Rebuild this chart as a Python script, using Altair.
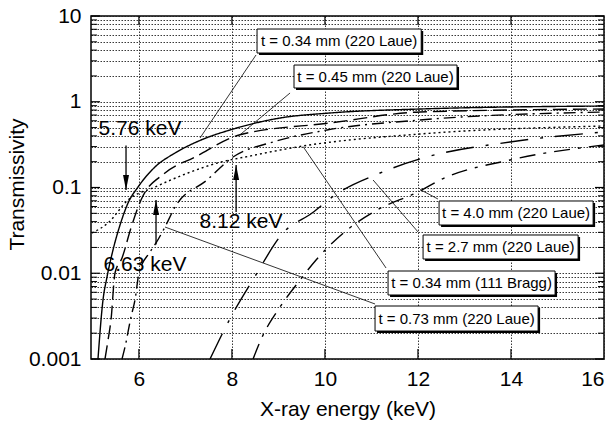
import altair as alt
import pandas as pd

W, H = 513, 343
FONT = "Liberation Sans"

# ---------------- data ----------------
series_names = [
    "t = 0.34 mm (220 Laue)",
    "t = 0.45 mm (220 Laue)",
    "t = 0.73 mm (220 Laue)",
    "t = 0.34 mm (111 Bragg)",
    "t = 2.7 mm (220 Laue)",
    "t = 4.0 mm (220 Laue)",
]

e_034_laue = [5.12, 5.228, 5.314, 5.443, 5.615, 5.766, 5.981, 6.346, 6.776, 7.336, 7.959, 9.035, 10.11, 12.045, 16.0]
t_034_laue = [0.001, 0.00488, 0.00904, 0.01866, 0.0396, 0.0659, 0.1013, 0.1735, 0.2524, 0.358, 0.4686, 0.646, 0.7393, 0.823, 0.892]

e_045_laue = [5.271, 5.336, 5.40, 5.486, 5.637, 5.83, 6.045, 6.561, 7.206, 8.174, 10.11, 12.045, 16.0]
t_045_laue = [0.001, 0.00166, 0.00285, 0.01007, 0.01507, 0.0337, 0.0715, 0.1476, 0.2268, 0.4123, 0.565, 0.7596, 0.823]

e_073_laue = [5.637, 5.701, 5.83, 5.916, 6.002, 6.239, 6.368, 6.561, 6.776, 7.465, 8.024, 8.884, 10.045, 12.045, 16.0]
t_073_laue = [0.001, 0.00138, 0.00309, 0.00488, 0.01007, 0.0177, 0.02255, 0.0346, 0.0592, 0.1223, 0.2268, 0.3393, 0.4686, 0.6126, 0.7596]

e_034_bragg = [4.99, 5.336, 5.766, 6.346, 7.056, 7.766, 8.282, 9.529, 12.045, 16.0]
t_034_bragg = [0.02947, 0.0386, 0.0715, 0.1013, 0.1476, 0.1983, 0.2268, 0.3048, 0.4207, 0.5215]

e_27_laue = [7.529, 8.002, 8.475, 9.099, 9.723, 10.217, 11.185, 12.11, 13.981, 16.0]
t_27_laue = [0.001, 0.00326, 0.0088, 0.02947, 0.0504, 0.0818, 0.1476, 0.2208, 0.3393, 0.4437]

e_40_laue = [8.454, 8.669, 8.992, 9.465, 9.809, 10.475, 11.12, 12.045, 12.475, 13.981, 16.0]
t_40_laue = [0.001, 0.0019, 0.00373, 0.00834, 0.01427, 0.03194, 0.0546, 0.091, 0.1223, 0.2093, 0.3131]

curve_e = [e_034_laue, e_045_laue, e_073_laue, e_034_bragg, e_27_laue, e_40_laue]
curve_t = [t_034_laue, t_045_laue, t_073_laue, t_034_bragg, t_27_laue, t_40_laue]

# label boxes (energy / transmissivity of box corners)
box_e0 = [8.54, 9.335, 11.077, 11.357, 12.11, 12.454]
box_e1 = [12.07, 12.84, 14.583, 14.948, 15.443, 15.766]
box_t0 = [7.05, 2.68, 0.004149, 0.01062, 0.02793, 0.0696]
box_t1 = [3.70, 1.447, 0.00212, 0.005577, 0.01466, 0.03653]

# leader lines: from curve point to box
lead_e_curve = [7.314, 8.174, 6.561, 9.529, 11.035, 12.045]
lead_t_curve = [0.378, 0.412, 0.0346, 0.3007, 0.1223, 0.0948]
lead_e_box = [8.518, 9.25, 11.077, 11.314, 12.002, 12.43]
lead_t_box = [3.51, 1.265, 0.00438, 0.01151, 0.0303, 0.0734]

# energy arrows
arrow_labels = ["5.76 keV", "6.63 keV", "8.12 keV"]
arrow_e = [5.723, 6.368, 8.09]
arrow_t_tail = [0.309, 0.02164, 0.0518]
arrow_t_tip = [0.0936, 0.0715, 0.183]
arrow_dir = ["down", "up", "up"]
label_e = [6.024, 6.131, 8.196]
label_t = [0.481, 0.01248, 0.0396]

x_ticks = [6, 8, 10, 12, 14, 16]
decades = [0.001, 0.01, 0.1, 1, 10]

# ---------------- tables ----------------
rows = []
for name, es, ts in zip(series_names, curve_e, curve_t):
    for e, t in zip(es, ts):
        rows.append({"series": name, "E": e, "T": t})
curves = pd.DataFrame(rows)

boxes = pd.DataFrame({
    "label": series_names, "e0": box_e0, "e1": box_e1, "t0": box_t0, "t1": box_t1,
})
boxes["ec"] = (boxes.e0 + boxes.e1) / 2
boxes["tc"] = (boxes.t0 * boxes.t1) ** 0.5

leaders = pd.DataFrame({"e0": lead_e_curve, "t0": lead_t_curve, "e1": lead_e_box, "t1": lead_t_box})

arrows = pd.DataFrame({"label": arrow_labels, "E": arrow_e, "tail": arrow_t_tail, "tip": arrow_t_tip,
                       "dir": arrow_dir, "le": label_e, "lt": label_t})

minor_vals = []
for d in [0.001, 0.01, 0.1, 1]:
    for k in range(2, 10):
        minor_vals.append(round(k * d, 6))
all_y_vals = sorted(decades + minor_vals)
ymajor = pd.DataFrame({"T": decades})
yminor = pd.DataFrame({"T": minor_vals})
xt = pd.DataFrame({"E": x_ticks[:-1]})

# ---------------- scales ----------------
xs = alt.Scale(domain=[4.97, 16.0], nice=False, zero=False)
ys = alt.Scale(type="log", domain=[0.001, 10], nice=False)

label_expr = ("datum.value == 10 ? '10' : datum.value == 1 ? '1' : datum.value == 0.1 ? '0.1' : "
              "datum.value == 0.01 ? '0.01' : datum.value == 0.001 ? '0.001' : ''")

x_axis = alt.Axis(values=x_ticks, title="X-ray energy (keV)", grid=True, gridDash=[1.5, 1.5],
                  gridColor="#222222", gridWidth=0.9, ticks=False, tickSize=0, domain=False,
                  labelFontSize=21, titleFontSize=21, labelFont=FONT, titleFont=FONT,
                  labelColor="black", titleColor="black", titleFontWeight="normal",
                  labelPadding=9, titleY=50, titleBaseline="middle")
y_axis = alt.Axis(values=all_y_vals, labelExpr=label_expr, title="Transmissivity", grid=True,
                  gridDash=[1.5, 1.5], gridColor="#222222", gridWidth=0.9, ticks=False, tickSize=0,
                  domain=False, labelFontSize=21, titleFontSize=21, labelFont=FONT, titleFont=FONT,
                  labelColor="black", titleColor="black", titleFontWeight="normal",
                  labelPadding=10, titleX=-74, titleY=168, titleBaseline="middle", labelOverlap=False)

base = alt.Chart(curves)

grid_layer = base.mark_line(opacity=0).encode(
    x=alt.X("E:Q", scale=xs, axis=x_axis),
    y=alt.Y("T:Q", scale=ys, axis=y_axis),
)

dash_range = [[1, 0], [14, 6], [12, 5, 2, 5], [2, 3], [28, 12, 3, 12], [16, 8, 3, 8]]

lines = base.mark_line(color="black", strokeWidth=1.4, interpolate="monotone", clip=True).encode(
    x=alt.X("E:Q", scale=xs),
    y=alt.Y("T:Q", scale=ys),
    strokeDash=alt.StrokeDash("series:N", scale=alt.Scale(domain=series_names, range=dash_range), legend=None),
    detail="series:N",
)

leader_layer = alt.Chart(leaders).mark_rule(color="black", strokeWidth=0.8).encode(
    x=alt.X("e0:Q", scale=xs), y=alt.Y("t0:Q", scale=ys), x2="e1:Q", y2="t1:Q"
)

shadow = alt.Chart(boxes).mark_rect(color="black", xOffset=2, yOffset=2, x2Offset=2, y2Offset=2).encode(
    x=alt.X("e0:Q", scale=xs), x2="e1:Q", y=alt.Y("t0:Q", scale=ys), y2="t1:Q"
)
box_rect = alt.Chart(boxes).mark_rect(fill="white", stroke="black", strokeWidth=1).encode(
    x=alt.X("e0:Q", scale=xs), x2="e1:Q", y=alt.Y("t0:Q", scale=ys), y2="t1:Q"
)
box_text = alt.Chart(boxes).mark_text(font=FONT, fontSize=15, color="black", align="center", baseline="middle").encode(
    x=alt.X("ec:Q", scale=xs), y=alt.Y("tc:Q", scale=ys), text="label:N"
)

arrow_shaft = alt.Chart(arrows).mark_rule(color="black", strokeWidth=1.3).encode(
    x=alt.X("E:Q", scale=xs), y=alt.Y("tail:Q", scale=ys), y2="tip:Q"
)
head_down = alt.Chart(arrows).transform_filter("datum.dir == 'down'").mark_point(
    shape="M0,0 L-0.4,-2 L0.4,-2 Z", filled=True, color="black", opacity=1, size=225
).encode(x=alt.X("E:Q", scale=xs), y=alt.Y("tip:Q", scale=ys))
head_up = alt.Chart(arrows).transform_filter("datum.dir == 'up'").mark_point(
    shape="M0,0 L-0.4,2 L0.4,2 Z", filled=True, color="black", opacity=1, size=225
).encode(x=alt.X("E:Q", scale=xs), y=alt.Y("tip:Q", scale=ys))
arrow_text = alt.Chart(arrows).mark_text(font=FONT, fontSize=21, color="black", align="center", baseline="middle").encode(
    x=alt.X("le:Q", scale=xs), y=alt.Y("lt:Q", scale=ys), text="label:N"
)

# inward ticks
tick_l_major = alt.Chart(ymajor).mark_rule(color="black", strokeWidth=1.2).encode(
    y=alt.Y("T:Q", scale=ys), x=alt.value(0), x2=alt.value(9))
tick_l_minor = alt.Chart(yminor).mark_rule(color="black", strokeWidth=1).encode(
    y=alt.Y("T:Q", scale=ys), x=alt.value(0), x2=alt.value(6))
tick_r_major = alt.Chart(ymajor).mark_rule(color="black", strokeWidth=1.2).encode(
    y=alt.Y("T:Q", scale=ys), x=alt.value(W - 9), x2=alt.value(W))
tick_r_minor = alt.Chart(yminor).mark_rule(color="black", strokeWidth=1).encode(
    y=alt.Y("T:Q", scale=ys), x=alt.value(W - 6), x2=alt.value(W))
tick_t = alt.Chart(xt).mark_rule(color="black", strokeWidth=1.2).encode(
    x=alt.X("E:Q", scale=xs), y=alt.value(0), y2=alt.value(9))
tick_b = alt.Chart(xt).mark_rule(color="black", strokeWidth=1.2).encode(
    x=alt.X("E:Q", scale=xs), y=alt.value(H - 10), y2=alt.value(H))

chart = alt.layer(
    grid_layer, lines, leader_layer, shadow, box_rect, box_text,
    arrow_shaft, head_down, head_up, arrow_text,
    tick_l_major, tick_l_minor, tick_r_major, tick_r_minor, tick_t, tick_b,
).properties(
    width=W, height=H,
    autosize=alt.AutoSizeParams(type="none"),
    padding={"left": 91, "top": 16, "right": 11, "bottom": 62},
    background="white",
).configure_view(stroke="black", strokeWidth=1.5)

chart.save("out.html", embed_options={"renderer": "svg", "actions": False})
